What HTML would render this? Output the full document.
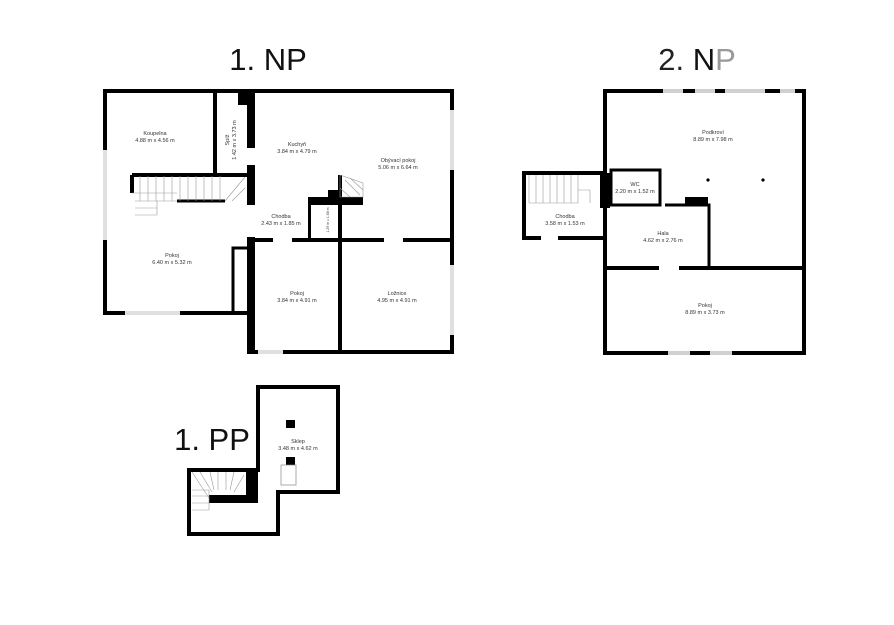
<!DOCTYPE html>
<html><head><meta charset="utf-8"><style>
html,body{margin:0;padding:0;background:#fff;}
svg{display:block;font-family:"Liberation Sans",sans-serif;}
.r{font-size:5.5px;text-anchor:middle;fill:#333;}
.t{font-size:31px;fill:#111;text-anchor:middle;}
</style></head><body>
<svg width="894" height="625" viewBox="0 0 894 625" xmlns="http://www.w3.org/2000/svg">
<rect width="894" height="625" fill="#fff"/>
<text class="t" x="268" y="70">1. NP</text>
<text class="t" x="697" y="70"><tspan fill="#222">2.</tspan><tspan fill="#999"> </tspan><tspan fill="#111">N</tspan><tspan fill="#999">P</tspan></text>
<text class="t" x="212" y="450">1. PP</text>

<!-- 1.NP -->
<g fill="none" stroke="#000" stroke-width="4">
<polyline points="250,313 105,313 105,91 452,91 452,352 253,352 253,313"/>
<line x1="215" y1="91" x2="215" y2="176"/>
<line x1="132" y1="175" x2="247" y2="175"/>
<line x1="132" y1="175" x2="132" y2="193"/>
<line x1="177" y1="201" x2="225" y2="201" stroke-width="3"/>
<line x1="340" y1="175" x2="340" y2="352"/>
<line x1="255" y1="240" x2="273" y2="240"/>
<line x1="292" y1="240" x2="384" y2="240"/>
<line x1="403" y1="240" x2="452" y2="240"/>
<polyline points="233,313 233,248 247,248" stroke-width="3"/>
</g>
<g fill="#000">
<rect x="238" y="89" width="17" height="16"/>
<rect x="247" y="105" width="8" height="43"/>
<rect x="247" y="165" width="8" height="40"/>
<rect x="247" y="237" width="8" height="117"/>
<rect x="308" y="197" width="55" height="8"/>
<rect x="308" y="197" width="3" height="43"/>
<rect x="328" y="190" width="12" height="8"/>
</g>
<g stroke="#999" stroke-width="0.6" fill="none">
<path d="M340 175 L363 183 L363 197 L340 197 Z"/>
<path d="M345 180 L360 195 M340 188 L350 197 M350 178 L363 190"/>
<path d="M140 176 V201 M148 176 V201 M156 176 V201 M164 176 V201 M172 176 V201 M180 176 V201 M188 176 V201 M196 176 V201 M204 176 V201 M212 176 V201 M220 176 V201"/>
<path d="M132 193 H177 M135 201 H177 M135 208 H157 M135 215 H157 M157 201 V215"/>
<path d="M225 201 L245 177 M232 201 L245 188"/>
</g>
<g fill="#e0e0e0"><rect x="103" y="150" width="4" height="90"/><rect x="125" y="311" width="55" height="4"/><rect x="450" y="110" width="4" height="60"/><rect x="450" y="265" width="4" height="70"/><rect x="258" y="350" width="25" height="4"/></g>
<text class="r" x="155" y="135">Koupelna</text><text class="r" x="155" y="142">4.88 m x 4.56 m</text>
<text class="r" transform="translate(229,140) rotate(-90)">Spíž</text>
<text class="r" transform="translate(236,140) rotate(-90)">1.42 m x 3.73 m</text>
<text class="r" x="297" y="146">Kuchyň</text><text class="r" x="297" y="153">3.84 m x 4.79 m</text>
<text class="r" x="398" y="162">Obývací pokoj</text><text class="r" x="398" y="169">5.06 m x 6.64 m</text>
<text class="r" x="281" y="218">Chodba</text><text class="r" x="281" y="225">2.43 m x 1.85 m</text>
<text class="r" transform="translate(329,220) rotate(-90)" style="font-size:3.5px">1.29 m x 1.68 m</text>
<text class="r" x="172" y="257">Pokoj</text><text class="r" x="172" y="264">6.40 m x 5.32 m</text>
<text class="r" x="297" y="295">Pokoj</text><text class="r" x="297" y="302">3.84 m x 4.91 m</text>
<text class="r" x="397" y="295">Ložnice</text><text class="r" x="397" y="302">4.95 m x 4.91 m</text>

<!-- 2.NP -->
<g fill="none" stroke="#000" stroke-width="4">
<rect x="605" y="91" width="199" height="262"/>
<line x1="605" y1="268" x2="659" y2="268"/>
<line x1="679" y1="268" x2="804" y2="268"/>
<polyline points="605,173 524,173 524,238 541,238"/>
<line x1="558" y1="238" x2="605" y2="238"/>
<rect x="611" y="170" width="49" height="35" stroke-width="3"/>
<polyline points="665,205 709,205 709,268" stroke-width="3"/>
</g>
<g fill="#000"><rect x="600" y="173" width="10" height="35"/><rect x="685" y="197" width="23" height="8"/><circle cx="708" cy="180" r="1.6"/><circle cx="763" cy="180" r="1.6"/></g>
<g fill="#d0d0d0"><rect x="663" y="89" width="20" height="4"/><rect x="695" y="89" width="20" height="4"/><rect x="725" y="89" width="40" height="4"/><rect x="780" y="89" width="15" height="4"/><rect x="668" y="351" width="22" height="4"/><rect x="710" y="351" width="22" height="4"/></g>
<g stroke="#999" stroke-width="0.6" fill="none"><path d="M529 175 V203 M536 175 V203 M543 175 V203 M550 175 V203 M557 175 V203 M564 175 V203 M571 175 V203 M578 175 V203 H529 M578 190 H590 V203"/></g>
<text class="r" x="713" y="134">Podkroví</text><text class="r" x="713" y="141">8.89 m x 7.98 m</text>
<text class="r" x="635" y="186">WC</text><text class="r" x="635" y="193">2.20 m x 1.52 m</text>
<text class="r" x="565" y="218">Chodba</text><text class="r" x="565" y="225">3.58 m x 1.53 m</text>
<text class="r" x="663" y="235">Hala</text><text class="r" x="663" y="242">4.62 m x 2.76 m</text>
<text class="r" x="705" y="307">Pokoj</text><text class="r" x="705" y="314">8.89 m x 3.73 m</text>

<!-- 1.PP -->
<polygon points="258,387 338,387 338,492 278,492 278,534 189,534 189,470 258,470" fill="none" stroke="#000" stroke-width="4"/>
<g fill="#000"><rect x="246" y="470" width="12" height="32"/><rect x="209" y="495" width="49" height="8"/><rect x="286" y="420" width="9" height="8"/><rect x="286" y="457" width="9" height="8"/></g>
<rect x="281" y="465" width="15" height="20" fill="none" stroke="#888" stroke-width="0.7"/>
<g stroke="#999" stroke-width="0.6" fill="none"><path d="M192 472 L209 498 M200 472 L212 492 M210 472 L214 490 M218 472 V490 M226 472 V490 M234 472 L230 490 M244 475 L234 492 M192 490 H209 M192 496 H209 M192 503 H209 M192 510 H209 M209 490 V510"/></g>
<text class="r" x="298" y="443">Sklep</text><text class="r" x="298" y="450">3.48 m x 4.62 m</text>
</svg>
</body></html>
